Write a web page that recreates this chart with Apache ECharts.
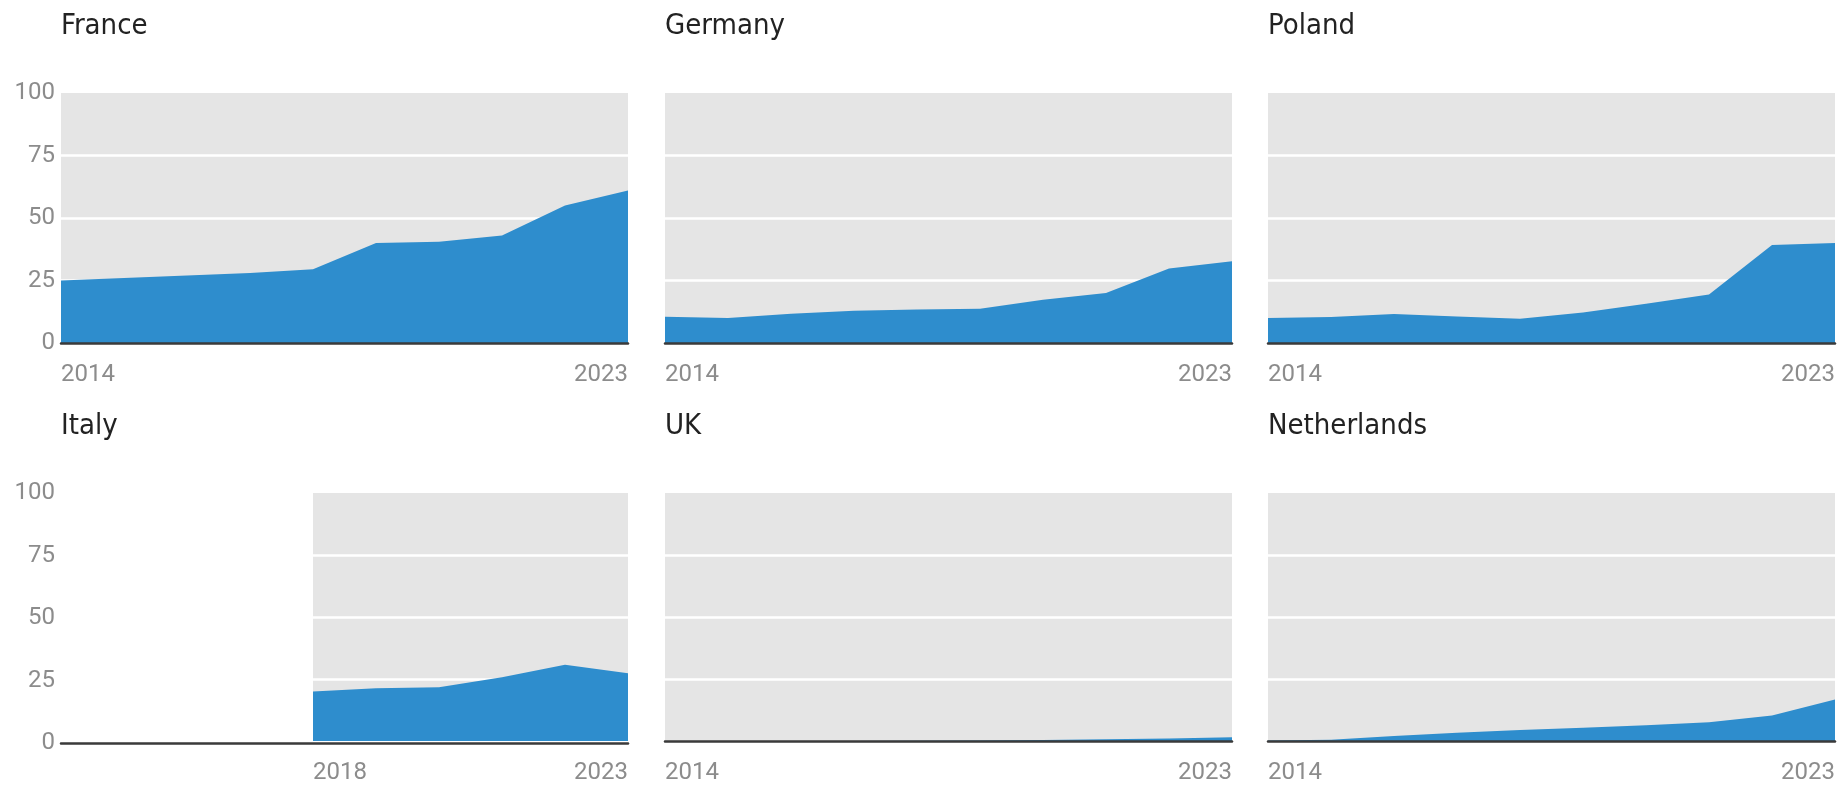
<!DOCTYPE html>
<html>
<head>
<meta charset="utf-8">
<title>Share by country, 2014-2023</title>
<script src="https://cdn.jsdelivr.net/npm/echarts@6/dist/echarts.min.js"></script>
<style>
  html, body { margin: 0; padding: 0; background: #fff; }
  #chart { width: 1844px; height: 785px; }
</style>
</head>
<body>
<div id="chart"></div>
<script>
// data
const years = ['2014', '2015', '2016', '2017', '2018', '2019', '2020', '2021', '2022', '2023']
const italyYears = ['2018', '2019', '2020', '2021', '2022', '2023']
const yTicks = [0, 25, 50, 75, 100]

const france = [25, 26, 27, 28, 29.5, 40, 40.5, 43, 55, 61]
const germany = [10.5, 10, 11.7, 12.9, 13.4, 13.7, 17.3, 20, 29.8, 32.7]
const poland = [10, 10.4, 11.6, 10.6, 9.7, 12.2, 15.7, 19.4, 39.2, 40]
const italy = [20, 21.3, 21.7, 25.7, 30.7, 27.3] // 2018-2023 only
const uk = [0, 0, 0, 0, 0.1, 0.2, 0.4, 0.7, 1, 1.5]
const netherlands = [0.2, 0.5, 2, 3.3, 4.4, 5.3, 6.4, 7.6, 10.3, 16.7]

const panels = [
  { name: 'France', values: france },
  { name: 'Germany', values: germany },
  { name: 'Poland', values: poland },
  { name: 'Italy', values: italy, cats: italyYears },
  { name: 'UK', values: uk },
  { name: 'Netherlands', values: netherlands }
]

const colLeft = [61, 665, 1268]
const plotW = 567
const rowTop = [93, 493]
const plotH = 250
const blue = '#2e8dcd'
const labelFont = 'Roboto'
const titleFont = "'DejaVu Sans Condensed', 'DejaVu Sans', sans-serif"

const grids = [], xAxes = [], yAxes = [], series = [], titles = []

function addAxes(gridIndex, cats, opts) {
  const last = cats.length - 1
  xAxes.push({
    type: 'category',
    gridIndex: gridIndex,
    data: cats,
    boundaryGap: false,
    z: 5,
    axisLine: { show: opts.zeroLine, lineStyle: { color: '#3a3a3a', width: 2.5 } },
    axisTick: { show: false },
    splitLine: { show: false },
    axisLabel: {
      show: opts.xLabels,
      interval: function (i) { return i === 0 || i === last },
      alignMinLabel: 'left',
      alignMaxLabel: 'right',
      margin: 20,
      fontFamily: labelFont,
      fontSize: 24,
      color: '#8c8c8c'
    }
  })
  yAxes.push({
    type: 'value',
    gridIndex: gridIndex,
    min: 0,
    max: 100,
    interval: 25,
    axisLine: { show: false },
    axisTick: { show: false },
    splitLine: {
      show: opts.splitLines,
      showMinLine: false,
      showMaxLine: false,
      lineStyle: { color: '#ffffff', width: 2.5 }
    },
    axisLabel: {
      show: opts.yLabels,
      margin: 6,
      fontFamily: labelFont,
      fontSize: 24,
      color: '#8c8c8c',
      formatter: function (v) { return yTicks.indexOf(v) >= 0 ? String(v) : '' }
    }
  })
}

panels.forEach(function (p, i) {
  const col = i % 3
  const row = Math.floor(i / 3)
  const left = colLeft[col]
  const top = rowTop[row]

  titles.push({
    text: p.name,
    left: left - 5,
    top: top - 86,
    textStyle: {
      fontFamily: titleFont,
      fontWeight: 'normal',
      fontSize: 29,
      color: '#222222'
    }
  })

  if (p.cats) {
    // frame over the full year span: y labels and the zero line
    grids.push({ left: left, top: top, width: plotW, height: plotH, show: false })
    addAxes(grids.length - 1, years, { xLabels: false, yLabels: col === 0, splitLines: false, zeroLine: true })
    // shaded plot only where the series has data
    const offset = years.indexOf(p.cats[0]) / (years.length - 1) * plotW
    grids.push({
      left: left + offset, top: top, width: plotW - offset, height: plotH,
      show: true, backgroundColor: '#e5e5e5', borderWidth: 0
    })
    addAxes(grids.length - 1, p.cats, { xLabels: true, yLabels: false, splitLines: true, zeroLine: false })
  } else {
    grids.push({
      left: left, top: top, width: plotW, height: plotH,
      show: true, backgroundColor: '#e5e5e5', borderWidth: 0
    })
    addAxes(grids.length - 1, years, { xLabels: true, yLabels: col === 0, splitLines: true, zeroLine: true })
  }

  const gi = grids.length - 1
  series.push({
    name: p.name,
    type: 'line',
    xAxisIndex: gi,
    yAxisIndex: gi,
    data: p.values,
    symbol: 'none',
    lineStyle: { width: 0 },
    areaStyle: { color: blue, opacity: 1 },
    animation: false
  })
})

const chart = echarts.init(document.getElementById('chart'))
chart.setOption({
  animation: false,
  title: titles,
  grid: grids,
  xAxis: xAxes,
  yAxis: yAxes,
  series: series
})
</script>
</body>
</html>
